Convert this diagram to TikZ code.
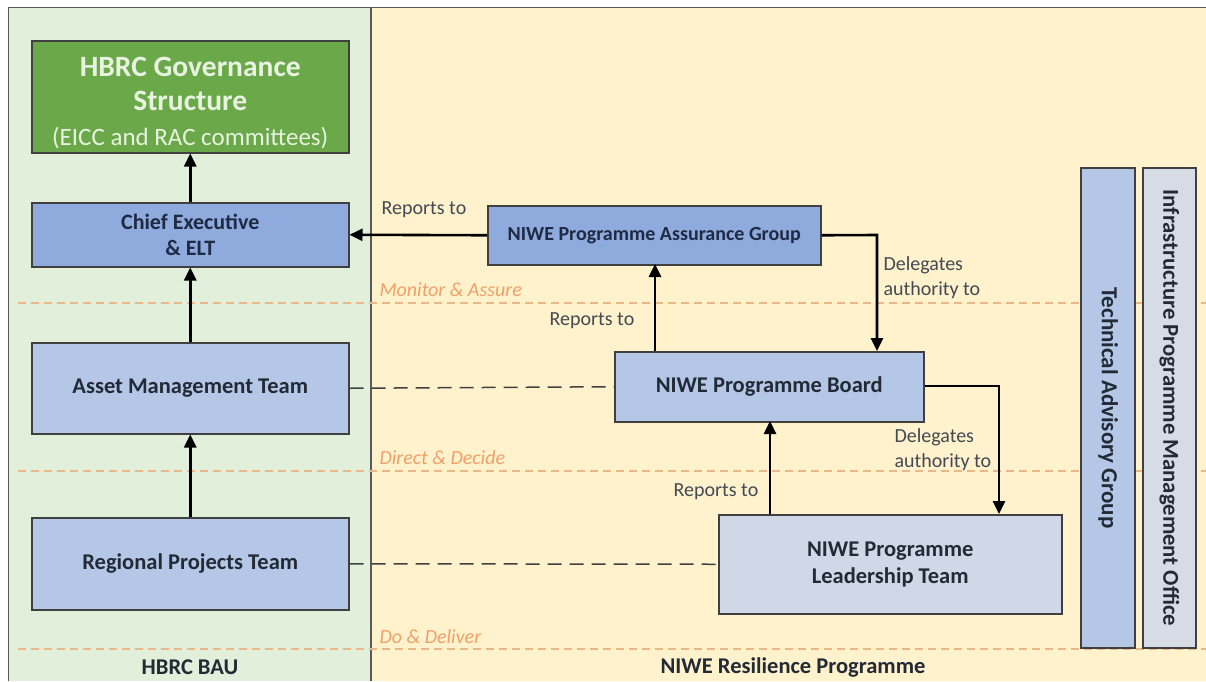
\documentclass[tikz,border=0pt]{standalone}
\usepackage{fontspec}
\setmainfont{Carlito}
\usetikzlibrary{arrows.meta}
\definecolor{panelg}{HTML}{E2EFDA}
\definecolor{panely}{HTML}{FFF2CC}
\definecolor{govg}{HTML}{6AA84A}
\definecolor{govt}{HTML}{E8F3E0}
\definecolor{blueA}{HTML}{8FAADC}
\definecolor{blueB}{HTML}{B4C7E7}
\definecolor{blueC}{HTML}{D0D8E8}
\definecolor{blueD}{HTML}{D6DCE5}
\definecolor{navy}{HTML}{1F2A44}
\definecolor{txt}{HTML}{222A35}
\definecolor{bord}{HTML}{404040}
\definecolor{orangel}{HTML}{E8B888}
\definecolor{oranget}{HTML}{F0A068}
\tikzset{
  box/.style={draw=bord, line width=1.5pt, anchor=north west, inner sep=0pt, align=center, font=\bfseries\fontsize{22.5}{27}\selectfont, text=txt},
  arr/.style={-{Triangle[length=13pt,width=12pt]}, line width=2.6pt, black},
  dashlink/.style={dash pattern=on 14pt off 8pt, line width=1.5pt, bord},
  band/.style={dash pattern=on 8pt off 5pt, line width=1.2pt, orangel},
  bandlbl/.style={anchor=west, font=\itshape\fontsize{20}{22}\selectfont, text=oranget},
  lbl/.style={font=\fontsize{20}{25}\selectfont, text=txt!85, align=left},
}
\begin{document}
\begin{tikzpicture}[x=1pt,y=-1pt]
\useasboundingbox (0,0) rectangle (1206,681);
\fill[white] (0,0) rectangle (1206,681);
% panels
\fill[panelg] (8,7) rectangle (371,681);
\fill[panely] (371,7) rectangle (1206,681);
\draw[gray!70!black, line width=1pt] (8,681) -- (8,7) -- (1206,7);
\draw[gray!70!black, line width=1.5pt] (371,7) -- (371,681);
% band lines
\draw[band] (18,303) -- (1206,303);
\draw[band] (18,471) -- (1206,471);
\draw[band] (18,649) -- (1206,649);
\node[bandlbl] (m1) at (376,290) {Monitor \& Assure};
\node[bandlbl] (m2) at (376,458) {Direct \& Decide};
\node[bandlbl] (m3) at (376,637) {Do \& Deliver};
% boxes
\node[box, fill=govg, minimum width=317pt, minimum height=112pt] (gov) at (31,40) {};
\node[text=govt, align=center, inner sep=0pt, font=\bfseries\fontsize{29.5}{34.5}\selectfont] (govtxt) at ([yshift=-6pt]gov.center)
  {HBRC Governance\\Structure\\{\mdseries\fontsize{25}{34}\selectfont (EICC and RAC committees)}};
\node[box, fill=blueA, minimum width=317pt, minimum height=64pt, text=navy, font=\bfseries\fontsize{22}{26}\selectfont] (ce) at (31,202) {Chief Executive\\\& ELT};
\node[box, fill=blueB, minimum width=317pt, minimum height=91pt] (amt) at (31,342) {Asset Management Team};
\node[box, fill=blueB, minimum width=317pt, minimum height=92pt] (rpt) at (31,517) {Regional Projects Team};
\node[box, fill=blueA, minimum width=333pt, minimum height=59pt, text=navy, font=\bfseries\fontsize{20}{24}\selectfont] (pag) at (487,205) {NIWE Programme Assurance Group};
\node[box, fill=blueB, minimum width=309pt, minimum height=70pt] (pb) at (614,351) {NIWE Programme Board};
\node[box, fill=blueC, minimum width=343pt, minimum height=99pt, font=\bfseries\fontsize{22.5}{27}\selectfont] (plt) at (718,514) {NIWE Programme\\Leadership Team};
\draw[bord, line width=1.5pt, fill=blueB] (1081,168) rectangle (1135,648);
\node[rotate=-90, font=\bfseries\fontsize{23}{26}\selectfont, text=txt] (tag) at (1108,408) {Technical Advisory Group};
\draw[bord, line width=1.5pt, fill=blueD] (1143,168) rectangle (1196,648);
\node[rotate=-90, font=\bfseries\fontsize{22.7}{26}\selectfont, text=txt] (ipmo) at (1169.5,408) {Infrastructure Programme Management Office};
% bottom labels
\node[font=\bfseries\fontsize{22.5}{26}\selectfont, text=txt] (bau) at (190,667) {HBRC BAU};
\node[font=\bfseries\fontsize{22.5}{26}\selectfont, text=txt] (nrp) at (793,667) {NIWE Resilience Programme};
% arrows
\draw[arr] (ce.north) -- (gov.south);
\draw[arr] (amt.north) -- (ce.south);
\draw[arr] (rpt.north) -- (amt.south);
\draw[arr] (pag.west) -- (ce.east);
\node[lbl] (r1) at (424,210) {Reports to};
\coordinate (pbtop) at (655,351);
\coordinate (pagbot) at (655,264);
\draw[arr] (pbtop) -- (pagbot);
\node[lbl] (r2) at (592,321) {Reports to};
\coordinate (d1) at (877,235);
\coordinate (d1e) at (877,351);
\draw[arr] (pag.east) -- (d1) -- (d1e);
\node[lbl, anchor=west] (l1) at (880,265) {Delegates};
\node[lbl, anchor=west] (l1b) at (880,290) {authority to};
\coordinate (d2) at (999,386);
\coordinate (d2e) at (999,514);
\draw[arr] (pb.east |- d2) -- (d2) -- (d2e);
\node[lbl, anchor=west] (l2) at (891,437) {Delegates};
\node[lbl, anchor=west] (l2b) at (891,462) {authority to};
\coordinate (plttop) at (770,514);
\coordinate (pbbot) at (770,421);
\draw[arr] (plttop) -- (pbbot);
\node[lbl] (r3) at (716,492) {Reports to};
% dashed links
\draw[dashlink] (amt.east) -- (pb.west);
\draw[dashlink] (rpt.east) -- (plt.west);
\end{tikzpicture}
\end{document}
